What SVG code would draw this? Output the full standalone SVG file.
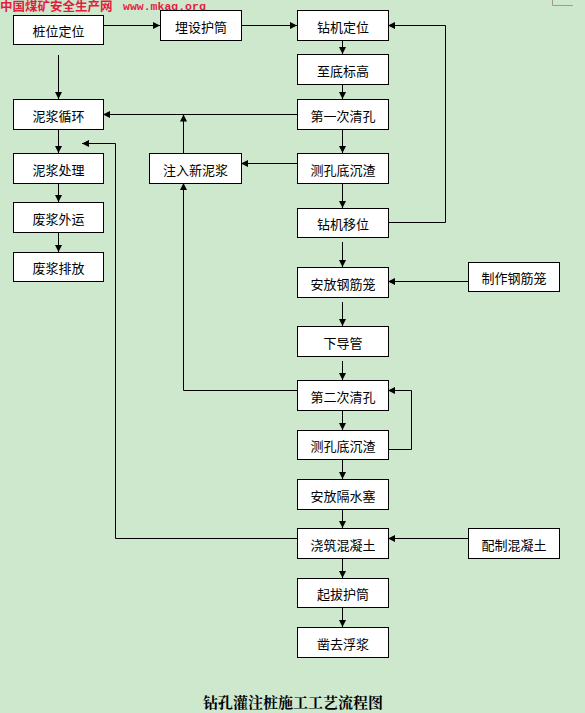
<svg xmlns="http://www.w3.org/2000/svg" width="585" height="713" viewBox="0 0 585 713">
<defs>
<marker id="ah" markerUnits="userSpaceOnUse" markerWidth="7" markerHeight="7" refX="7" refY="3.5" orient="auto">
<path d="M0,0 L7,3.5 L0,7 z" fill="#000"/>
</marker>
<style>
.bx{fill:#fff;stroke:#000;stroke-width:1}
.t{font-family:"Noto Sans CJK SC","Liberation Sans",sans-serif;font-size:13px;fill:#000;text-anchor:middle;dominant-baseline:central}
.c{fill:none;stroke:#000;stroke-width:1}
.a{marker-end:url(#ah)}
</style>
</defs>
<rect width="585" height="713" fill="#cde8cd"/>
<text x="0" y="10.5" style="font-family:'Noto Sans CJK SC',sans-serif;font-size:12.5px;font-weight:bold;fill:#e41d3f">中国煤矿安全生产网</text>
<text x="123" y="9.5" style="font-family:'Liberation Mono',monospace;font-size:11.5px;font-weight:bold;fill:#e41d3f">www.mkaq.org</text>
<path d="M552.5,0 V5.5 H573" fill="none" stroke="#9a9a9a" stroke-width="1"/>
<g id="connectors">
<path class="c a" d="M103,25.5 H160"/>
<path class="c a" d="M241,25.5 H297"/>
<path class="c a" d="M342.5,40 V54"/>
<path class="c a" d="M342.5,84 V99"/>
<path class="c a" d="M342.5,129 V153"/>
<path class="c a" d="M342.5,183 V208"/>
<path class="c a" d="M342.5,242 V267"/>
<path class="c a" d="M342.5,302 V326"/>
<path class="c a" d="M342.5,361 V380"/>
<path class="c a" d="M342.5,410 V430"/>
<path class="c a" d="M342.5,459 V479"/>
<path class="c a" d="M342.5,509 V528"/>
<path class="c a" d="M342.5,558 V578"/>
<path class="c a" d="M342.5,607 V627"/>
<path class="c a" d="M388,222.5 H445.5 V25.5 H388"/>
<path class="c a" d="M468,281.5 H388"/>
<path class="c a" d="M468,538.5 H388"/>
<path class="c a" d="M388,449.5 H411.5 V390.5 H388"/>
<path class="c a" d="M297,114.5 H103"/>
<path class="c a" d="M183.5,153 V114.5"/>
<path class="c a" d="M297,163.5 H241"/>
<path class="c a" d="M297,390.5 H183.5 V183"/>
<path class="c a" d="M297,538.5 H115.5 V143.5 H82"/>
<path class="c a" d="M58.5,55 V99"/>
<path class="c a" d="M58.5,129 V153"/>
<path class="c a" d="M58.5,183 V202"/>
<path class="c a" d="M58.5,232 V252"/>
</g>
<g id="n1"><rect class="bx" x="13.5" y="15.5" width="90" height="29"/><text class="t" x="58.5" y="30.5">桩位定位</text></g>
<g id="n2"><rect class="bx" x="160.5" y="10.5" width="81" height="30"/><text class="t" x="201" y="26">埋设护筒</text></g>
<g id="n3"><rect class="bx" x="297.5" y="10.5" width="91" height="30"/><text class="t" x="343" y="26">钻机定位</text></g>
<g id="n4"><rect class="bx" x="297.5" y="54.5" width="91" height="30"/><text class="t" x="343" y="70">至底标高</text></g>
<g id="n5"><rect class="bx" x="297.5" y="99.5" width="91" height="30"/><text class="t" x="343" y="115">第一次清孔</text></g>
<g id="n6"><rect class="bx" x="297.5" y="153.5" width="91" height="30"/><text class="t" x="343" y="169">测孔底沉渣</text></g>
<g id="n7"><rect class="bx" x="297.5" y="208.5" width="91" height="29"/><text class="t" x="343" y="223.5">钻机移位</text></g>
<g id="n8"><rect class="bx" x="297.5" y="267.5" width="91" height="30"/><text class="t" x="343" y="283">安放钢筋笼</text></g>
<g id="n9"><rect class="bx" x="297.5" y="326.5" width="91" height="30"/><text class="t" x="343" y="342">下导管</text></g>
<g id="n10"><rect class="bx" x="297.5" y="380.5" width="91" height="30"/><text class="t" x="343" y="396">第二次清孔</text></g>
<g id="n11"><rect class="bx" x="297.5" y="430.5" width="91" height="29"/><text class="t" x="343" y="445.5">测孔底沉渣</text></g>
<g id="n12"><rect class="bx" x="297.5" y="479.5" width="91" height="30"/><text class="t" x="343" y="495">安放隔水塞</text></g>
<g id="n13"><rect class="bx" x="297.5" y="528.5" width="91" height="30"/><text class="t" x="343" y="544">浇筑混凝土</text></g>
<g id="n14"><rect class="bx" x="297.5" y="578.5" width="91" height="29"/><text class="t" x="343" y="593.5">起拔护筒</text></g>
<g id="n15"><rect class="bx" x="297.5" y="627.5" width="91" height="30"/><text class="t" x="343" y="643">凿去浮浆</text></g>
<g id="n16"><rect class="bx" x="468.5" y="262.5" width="91" height="29"/><text class="t" x="514" y="277.5">制作钢筋笼</text></g>
<g id="n17"><rect class="bx" x="468.5" y="528.5" width="91" height="30"/><text class="t" x="514" y="544">配制混凝土</text></g>
<g id="n18"><rect class="bx" x="149.5" y="153.5" width="92" height="30"/><text class="t" x="195.5" y="169">注入新泥浆</text></g>
<g id="n19"><rect class="bx" x="13.5" y="99.5" width="90" height="30"/><text class="t" x="58.5" y="115">泥浆循环</text></g>
<g id="n20"><rect class="bx" x="13.5" y="153.5" width="90" height="30"/><text class="t" x="58.5" y="169">泥浆处理</text></g>
<g id="n21"><rect class="bx" x="13.5" y="202.5" width="90" height="30"/><text class="t" x="58.5" y="218">废浆外运</text></g>
<g id="n22"><rect class="bx" x="13.5" y="252.5" width="90" height="29"/><text class="t" x="58.5" y="267.5">废浆排放</text></g>
<text x="293" y="701" style="font-family:'Noto Serif CJK SC','Noto Sans CJK SC',serif;font-size:15px;font-weight:bold;fill:#000;text-anchor:middle;dominant-baseline:central">钻孔灌注桩施工工艺流程图</text>
</svg>
